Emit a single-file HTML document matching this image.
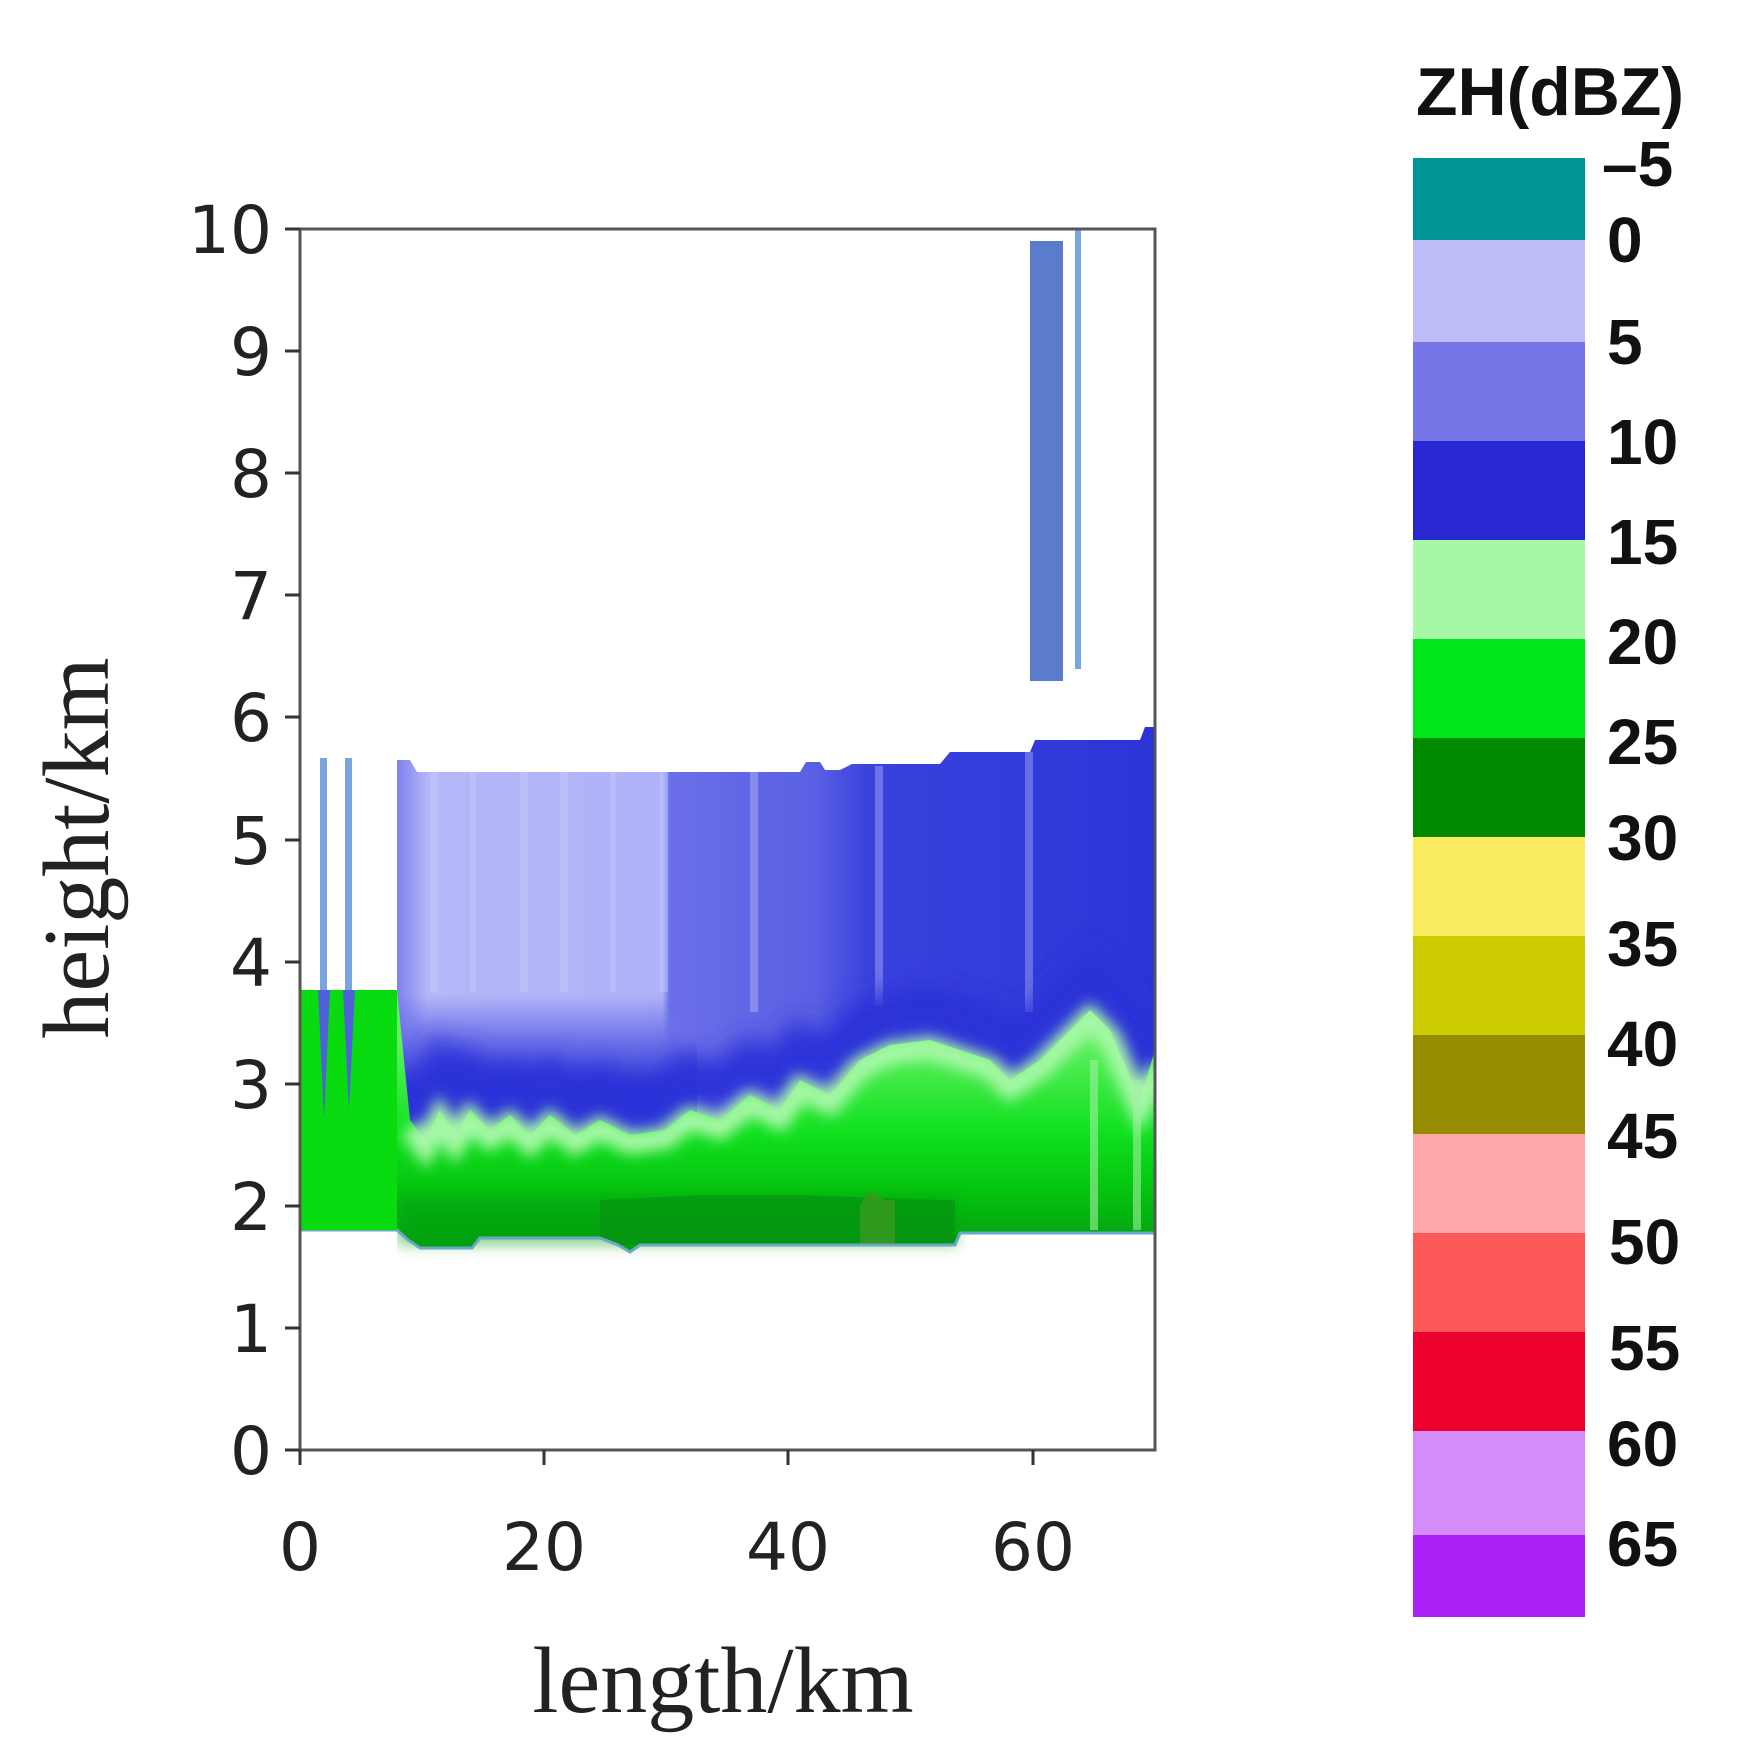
<!DOCTYPE html>
<html><head><meta charset="utf-8"><style>html,body{margin:0;padding:0;background:#fff}svg{display:block}</style></head>
<body>
<svg width="1750" height="1742" viewBox="0 0 1750 1742" xmlns="http://www.w3.org/2000/svg">
<defs>
<clipPath id="plot"><rect x="300" y="229" width="855" height="1221"/></clipPath>
<clipPath id="cloud"><rect x="397" y="700" width="758" height="600"/></clipPath>
<linearGradient id="upper" x1="397" y1="0" x2="1155" y2="0" gradientUnits="userSpaceOnUse">
<stop offset="0" stop-color="#7e80ee"/>
<stop offset="0.04" stop-color="#b4b6f8"/>
<stop offset="0.35" stop-color="#b0b2f8"/>
<stop offset="0.36" stop-color="#6a6ee8"/>
<stop offset="0.55" stop-color="#5a60e4"/>
<stop offset="0.62" stop-color="#3a42dc"/>
<stop offset="1" stop-color="#2c34d8"/>
</linearGradient>
<linearGradient id="fadeL" x1="0" y1="995" x2="0" y2="1090" gradientUnits="userSpaceOnUse">
<stop offset="0" stop-color="#6a6ee8" stop-opacity="0"/>
<stop offset="0.45" stop-color="#6a6ee8" stop-opacity="0.9"/>
<stop offset="1" stop-color="#2c34d8"/>
</linearGradient>
<linearGradient id="green" x1="0" y1="1040" x2="0" y2="1245" gradientUnits="userSpaceOnUse">
<stop offset="0" stop-color="#60f060"/>
<stop offset="0.45" stop-color="#10e020"/>
<stop offset="0.7" stop-color="#06c810"/>
<stop offset="1" stop-color="#04a010"/>
</linearGradient>
<filter id="b10" x="-10%" y="-50%" width="120%" height="200%"><feGaussianBlur stdDeviation="12"/></filter>
<filter id="b6" x="-10%" y="-50%" width="120%" height="200%"><feGaussianBlur stdDeviation="7"/></filter>
</defs>

<g clip-path="url(#plot)">
<!-- upper cloud -->
<polygon fill="url(#upper)" points="397,760 410,760 417,772 800,772 806,762 820,762 825,770 840,770 852,764 940,764 950,752 1030,752 1035,740 1140,740 1145,727 1155,727 1155,1200 397,1200"/>
<rect x="397" y="990" width="300" height="200" fill="url(#fadeL)"/>
<g opacity="0.35" fill="#d0d0ff">
<rect x="430" y="772" width="8" height="220"/><rect x="470" y="772" width="6" height="220"/><rect x="520" y="772" width="8" height="220"/><rect x="560" y="772" width="8" height="220"/><rect x="610" y="772" width="6" height="220"/><rect x="660" y="772" width="8" height="220"/>
<rect x="750" y="772" width="8" height="240"/><rect x="875" y="766" width="8" height="240"/><rect x="1025" y="752" width="8" height="260"/>
</g>
<g clip-path="url(#cloud)">
<polyline fill="none" stroke="#2a30d8" stroke-width="45" filter="url(#b10)" transform="translate(0,-32)" points="400,1120 425,1140 440,1110 455,1135 470,1110 490,1130 510,1115 530,1135 550,1115 575,1135 600,1120 630,1135 665,1130 690,1110 720,1120 750,1095 780,1110 800,1080 830,1095 860,1060 890,1045 930,1040 960,1050 990,1060 1010,1080 1040,1060 1070,1030 1090,1010 1110,1030 1140,1100 1170,1050"/>
</g>
<!-- green region -->
<polygon fill="url(#green)" points="300,990 397,990 410,1120 425,1140 440,1110 455,1135 470,1110 490,1130 510,1115 530,1135 550,1115 575,1135 600,1120 630,1135 665,1130 690,1110 720,1120 750,1095 780,1110 800,1080 830,1095 860,1060 890,1045 930,1040 960,1050 990,1060 1010,1080 1040,1060 1070,1030 1090,1010 1110,1030 1140,1100 1155,1050 1155,1233 960,1233 955,1245 640,1245 630,1252 618,1245 600,1238 480,1238 472,1248 420,1248 408,1240 397,1230 300,1230"/>
<g clip-path="url(#cloud)">
<polyline fill="none" stroke="#a8f8a8" stroke-width="22" filter="url(#b6)" transform="translate(0,8)" points="410,1120 425,1140 440,1110 455,1135 470,1110 490,1130 510,1115 530,1135 550,1115 575,1135 600,1120 630,1135 665,1130 690,1110 720,1120 750,1095 780,1110 800,1080 830,1095 860,1060 890,1045 930,1040 960,1050 990,1060 1010,1080 1040,1060 1070,1030 1090,1010 1110,1030 1140,1100 1160,1060"/>
<rect x="397" y="1195" width="560" height="50" fill="#04a010" opacity="0.5" filter="url(#b6)"/>
</g>
<polygon fill="#058a10" opacity="0.5" points="600,1200 700,1195 800,1195 940,1200 955,1200 955,1245 618,1245 600,1238"/>
<polygon fill="#3a9a20" opacity="0.8" points="860,1205 870,1190 885,1200 895,1200 895,1245 860,1245"/>
<rect x="1090" y="1060" width="8" height="170" fill="#a0f0a0" opacity="0.6"/>
<rect x="1133" y="1080" width="8" height="150" fill="#a0f0a0" opacity="0.6"/>
<polyline fill="none" stroke="#6aa8c8" stroke-width="3" points="300,1230 397,1230 408,1240 420,1248 472,1248 480,1238 600,1238 618,1245 630,1252 640,1245 955,1245 960,1233 1155,1233"/>
<!-- left columns -->
<rect x="300" y="990" width="97" height="240" fill="#08dc10"/>
<rect x="320" y="758" width="7" height="232" fill="#7aa6e0"/>
<rect x="345" y="758" width="7" height="232" fill="#7aa6e0"/>
<polygon fill="#5060d8" points="318,990 330,990 324,1120"/>
<polygon fill="#5060d8" points="343,990 355,990 349,1110"/>
<!-- upper right columns -->
<rect x="1030" y="241" width="33" height="440" fill="#5b7ccc"/>
<rect x="1075" y="229" width="6" height="440" fill="#7aa6e0"/>
</g>

<!-- axes -->
<rect x="300" y="229" width="855" height="1221" stroke="#555" stroke-width="3" fill="none"/>
<g stroke="#333" stroke-width="3">
<line x1="285" y1="1450" x2="300" y2="1450"/><line x1="285" y1="1328" x2="300" y2="1328"/><line x1="285" y1="1206" x2="300" y2="1206"/><line x1="285" y1="1084" x2="300" y2="1084"/><line x1="285" y1="962" x2="300" y2="962"/><line x1="285" y1="840" x2="300" y2="840"/><line x1="285" y1="717" x2="300" y2="717"/><line x1="285" y1="595" x2="300" y2="595"/><line x1="285" y1="473" x2="300" y2="473"/><line x1="285" y1="351" x2="300" y2="351"/><line x1="285" y1="229" x2="300" y2="229"/>
<line x1="300" y1="1450" x2="300" y2="1465"/><line x1="544" y1="1450" x2="544" y2="1465"/><line x1="788" y1="1450" x2="788" y2="1465"/><line x1="1033" y1="1450" x2="1033" y2="1465"/>
</g>
<g font-family="'DejaVu Sans','Liberation Sans',sans-serif" font-size="66" fill="#222" text-anchor="end">
<text x="272" y="1474">0</text><text x="272" y="1352">1</text><text x="272" y="1230">2</text><text x="272" y="1108">3</text><text x="272" y="986">4</text><text x="272" y="864">5</text><text x="272" y="741">6</text><text x="272" y="619">7</text><text x="272" y="497">8</text><text x="272" y="375">9</text><text x="272" y="253">10</text>
</g>
<g font-family="'DejaVu Sans','Liberation Sans',sans-serif" font-size="66" fill="#222" text-anchor="middle">
<text x="300" y="1570">0</text><text x="544" y="1570">20</text><text x="788" y="1570">40</text><text x="1033" y="1570">60</text>
</g>
<text x="723" y="1712" font-family="'Liberation Serif',serif" font-size="94" fill="#222" text-anchor="middle">length/km</text>
<text transform="translate(108,848) rotate(-90)" font-family="'Liberation Serif',serif" font-size="94" fill="#222" text-anchor="middle">height/km</text>

<!-- colorbar -->
<rect x="1413" y="158" width="172" height="82" fill="#009494"/>
<rect x="1413" y="240" width="172" height="102" fill="#bebdfa"/>
<rect x="1413" y="342" width="172" height="99" fill="#7676e8"/>
<rect x="1413" y="441" width="172" height="99" fill="#2828d2"/>
<rect x="1413" y="540" width="172" height="99" fill="#a6f8a6"/>
<rect x="1413" y="639" width="172" height="99" fill="#00e61a"/>
<rect x="1413" y="738" width="172" height="99" fill="#008a00"/>
<rect x="1413" y="837" width="172" height="99" fill="#faea60"/>
<rect x="1413" y="936" width="172" height="99" fill="#cccc00"/>
<rect x="1413" y="1035" width="172" height="99" fill="#958c00"/>
<rect x="1413" y="1134" width="172" height="99" fill="#fca8a8"/>
<rect x="1413" y="1233" width="172" height="99" fill="#fc5858"/>
<rect x="1413" y="1332" width="172" height="99" fill="#ec002e"/>
<rect x="1413" y="1431" width="172" height="104" fill="#d48cf8"/>
<rect x="1413" y="1535" width="172" height="82" fill="#aa22f8"/>
<text x="1550" y="115" font-family="'Liberation Sans',sans-serif" font-weight="bold" font-size="68" fill="#111" text-anchor="middle">ZH(dBZ)</text>
<g font-family="'Liberation Sans',sans-serif" font-weight="bold" font-size="64" fill="#111">
<text x="1602" y="186">–5</text><text x="1607" y="262">0</text><text x="1607" y="364">5</text><text x="1607" y="464">10</text><text x="1607" y="564">15</text><text x="1607" y="664">20</text><text x="1607" y="764">25</text><text x="1607" y="860">30</text><text x="1607" y="966">35</text><text x="1607" y="1066">40</text><text x="1607" y="1158">45</text><text x="1609" y="1264">50</text><text x="1609" y="1370">55</text><text x="1607" y="1466">60</text><text x="1607" y="1566">65</text>
</g>
</svg>
</body></html>
